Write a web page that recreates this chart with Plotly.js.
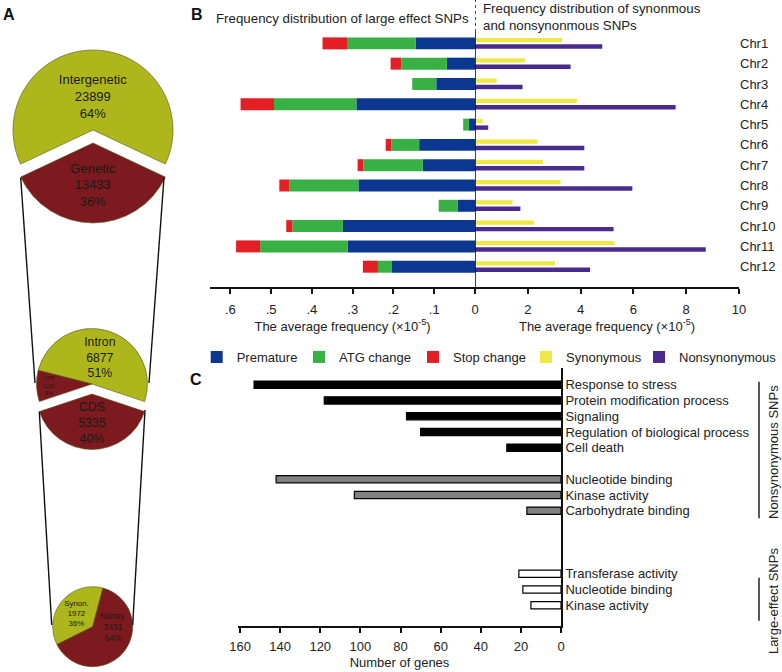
<!DOCTYPE html>
<html>
<head>
<meta charset="utf-8">
<script src="https://cdn.plot.ly/plotly-3.0.1.min.js"></script>
<style>
  html, body { margin: 0; padding: 0; background: #ffffff; }
  #chart { width: 782px; height: 672px; }
</style>
</head>
<body>
<div id="chart"></div>
<script>
/* SNP annotation figure - panels A (pies), B (per-chromosome frequency), C (GO terms) */

// Panel A: SNP counts by genomic region
const regionLabels = ['Intergenetic', 'Genetic'];
const regionCounts = [23899, 13433];
const geneLabels = ['Intron', 'UTR', 'CDS'];
const geneCounts = [6877, 1221, 5335];
const cdsLabels = ['Synon.', 'Nonsy.'];
const cdsCounts = [1972, 3431];

// Panel B: average frequency (x10^-5) per chromosome
const chromosomes = ['Chr1', 'Chr2', 'Chr3', 'Chr4', 'Chr5', 'Chr6',
                     'Chr7', 'Chr8', 'Chr9', 'Chr10', 'Chr11', 'Chr12'];
const premature  = [0.145, 0.069, 0.095, 0.291, 0.015, 0.137, 0.128, 0.286, 0.042, 0.324, 0.312, 0.205];
const atgChange  = [0.169, 0.112, 0.059, 0.202, 0.014, 0.068, 0.146, 0.169, 0.047, 0.124, 0.215, 0.033];
const stopChange = [0.060, 0.026, 0.000, 0.082, 0.000, 0.014, 0.014, 0.025, 0.000, 0.015, 0.059, 0.037];
const synonymous    = [3.30, 1.89, 0.82, 3.86, 0.29, 2.37, 2.57, 3.24, 1.42, 2.24, 5.28, 3.03];
const nonsynonymous = [4.82, 3.62, 1.80, 7.60, 0.50, 4.14, 4.14, 5.96, 1.72, 5.25, 8.74, 4.36];

// Panel C: number of genes per GO term
const bioTerms = ['Response to stress', 'Protein modification process', 'Signaling',
                  'Regulation of biological process', 'Cell death'];
const bioGenes = [153, 118, 77, 70, 27];
const molTerms = ['Nucleotide binding', 'Kinase activity', 'Carbohydrate binding'];
const molGenes = [142, 103, 17];
const largeTerms = ['Transferase activity', 'Nucleotide binding', 'Kinase activity'];
const largeGenes = [21, 19, 15];

// ---- helpers: pixel -> paper coordinates
const W = 782, H = 672;
const px = x => x / W;
const py = y => 1 - y / H;

const OLIVE = '#adb71c';
const MAROON = '#7c1a1f';
const FONT = 'Arial, "Liberation Sans", sans-serif';
const TEXT = '#222222';

const sum = arr => arr.reduce((a, b) => a + b, 0);

// plotly counterclockwise pies: slice 0 sits clockwise of the rotation line,
// the others follow counterclockwise. Centre slice k (k >= 1) at 6 o'clock.
function bottomRotation(values, k) {
  const total = sum(values);
  const deg = v => 360 * v / total;
  let rot = 180 + deg(sum(values.slice(1, k))) + deg(values[k]) / 2;
  while (rot > 360) rot -= 360;
  return rot;
}

function pieTrace(labels, values, colors, opts) {
  return {
    type: 'pie',
    labels: labels,
    values: values,
    sort: false,
    direction: 'counterclockwise',
    rotation: opts.rotation,
    pull: labels.map((_, i) => (i === opts.pulled ? opts.pull : 0)),
    domain: { x: [px(opts.x0), px(opts.x1)], y: [py(opts.y1), py(opts.y0)] },
    marker: { colors: colors, line: { color: '#55551a', width: 0.6 } },
    texttemplate: '%{label}<br>%{value:d}<br>%{percent:.0%}',
    textposition: 'inside',
    insidetextorientation: 'horizontal',
    insidetextfont: { family: FONT, size: opts.fontSize, color: '#1a1a1a' },
    hoverinfo: 'label+value+percent',
    showlegend: false
  };
}

const traces = [];

// Panel A pies
traces.push(pieTrace(regionLabels, regionCounts, [OLIVE, MAROON],
  { rotation: bottomRotation(regionCounts, 1), pulled: 1, pull: 0.1625,
    x0: 0, x1: 186, y0: 37, y1: 223, fontSize: 13 }));
traces.push(pieTrace(geneLabels, geneCounts, [OLIVE, MAROON, MAROON],
  { rotation: bottomRotation(geneCounts, 2), pulled: 2, pull: 0.18,
    x0: 26.5, x1: 157.5, y0: 318.5, y1: 449.5, fontSize: 13 }));
traces.push(pieTrace(cdsLabels, cdsCounts, [OLIVE, MAROON],
  { rotation: 243.5, pulled: -1, pull: 0,
    x0: 52.7, x1: 132.7, y0: 586.7, y1: 666.7, fontSize: 10 }));

// Panel B: one legend box per series, placed along the legend row
const legendIds = ['legend', 'legend2', 'legend3', 'legend4', 'legend5'];
const legendBoxLeft = [211.7, 314, 428, 541, 654];

// Panel B left: large effect SNPs, stacked leftwards from zero
const leftSeries = [
  { name: 'Premature', vals: premature, color: '#0b3790' },
  { name: 'ATG change', vals: atgChange, color: '#38b044' },
  { name: 'Stop change', vals: stopChange, color: '#e31e24' }
];
let running = chromosomes.map(() => 0);
leftSeries.forEach((s, i) => {
  traces.push({
    type: 'bar',
    orientation: 'h',
    name: s.name,
    legend: legendIds[i],
    y: chromosomes,
    x: s.vals,
    base: running.slice(),
    width: 0.59,
    xaxis: 'x',
    yaxis: 'y',
    marker: { color: s.color, line: { width: 0 } },
    hovertemplate: '%{y}: %{x:.3f}<extra>' + s.name + '</extra>'
  });
  running = running.map((v, j) => v + s.vals[j]);
});

// Panel B right: synonymous / nonsynonymous
traces.push({
  type: 'bar', orientation: 'h', name: 'Synonymous', legend: legendIds[3],
  y: chromosomes, x: synonymous,
  offset: -0.27, width: 0.21,
  xaxis: 'x2', yaxis: 'y',
  marker: { color: '#eee744', line: { width: 0 } }
});
traces.push({
  type: 'bar', orientation: 'h', name: 'Nonsynonymous', legend: legendIds[4],
  y: chromosomes, x: nonsynonymous,
  offset: 0.04, width: 0.22,
  xaxis: 'x2', yaxis: 'y',
  marker: { color: '#4a2a8c', line: { width: 0 } }
});

// Panel C: GO terms, with spacer slots between groups
const bioKeys = bioTerms.map(t => 'bio|' + t);
const molKeys = molTerms.map(t => 'mol|' + t);
const largeKeys = largeTerms.map(t => 'large|' + t);
const goSlots = [...bioKeys, 'gap1', ...molKeys, 'gap2', 'gap3', 'gap4', ...largeKeys];

const goGroups = [
  { keys: bioKeys, vals: bioGenes, fill: '#000000' },
  { keys: molKeys, vals: molGenes, fill: '#808080' },
  { keys: largeKeys, vals: largeGenes, fill: '#ffffff' }
];
goGroups.forEach(g => {
  traces.push({
    type: 'bar', orientation: 'h',
    y: g.keys, x: g.vals,
    width: 0.46,
    xaxis: 'x3', yaxis: 'y3',
    marker: { color: g.fill, line: { color: '#000000', width: 1.2 } },
    showlegend: false,
    hovertemplate: '%{x}<extra></extra>'
  });
});

const axisBase = {
  showgrid: false,
  zeroline: false,
  showline: true,
  linecolor: '#111111',
  linewidth: 1.6,
  ticks: 'outside',
  ticklen: 5,
  tickwidth: 1.5,
  tickcolor: '#111111',
  tickfont: { family: FONT, size: 13, color: TEXT },
  automargin: false,
  fixedrange: true
};
const axisTitleFont = { family: FONT, size: 13, color: TEXT };

// paper-anchored text helper (explicit anchors, plotly's 'auto' shifts them)
function label(text, x, y, extra) {
  return Object.assign({
    text: text, x: px(x), y: py(y), xref: 'paper', yref: 'paper',
    xanchor: 'center', yanchor: 'middle', showarrow: false,
    font: { family: FONT, size: 13, color: TEXT }
  }, extra || {});
}

const layout = {
  width: W,
  height: H,
  margin: { l: 0, r: 0, t: 0, b: 0, autoexpand: false },
  paper_bgcolor: '#ffffff',
  plot_bgcolor: 'rgba(0,0,0,0)',
  font: { family: FONT, size: 13, color: TEXT },
  barmode: 'overlay',
  showlegend: true,
  xaxis: Object.assign({}, axisBase, {
    domain: [px(210), px(475)],
    range: [0.65, 0],
    anchor: 'y',
    tickmode: 'array',
    tickvals: [0.6, 0.5, 0.4, 0.3, 0.2, 0.1, 0],
    ticktext: ['.6', '.5', '.4', '.3', '.2', '.1', '0'],
    ticklabelstandoff: 5,
    title: { text: 'The average frequency (×10<sup>-5</sup>)', font: axisTitleFont, standoff: 1 }
  }),
  xaxis2: Object.assign({}, axisBase, {
    domain: [px(475), px(739)],
    range: [0, 10],
    anchor: 'y',
    tickmode: 'array',
    tickvals: [0, 2, 4, 6, 8, 10],
    ticktext: [' ', '2', '4', '6', '8', '10'],
    ticklabelstandoff: 5,
    title: { text: 'The average frequency (×10<sup>-5</sup>)', font: axisTitleFont, standoff: 1 }
  }),
  yaxis: {
    domain: [py(287), py(32)],
    anchor: 'x2',
    side: 'right',
    type: 'category',
    categoryorder: 'array',
    categoryarray: chromosomes,
    range: [12.0, -0.56],
    showline: false,
    showgrid: false,
    zeroline: false,
    ticks: '',
    automargin: false,
    tickfont: { family: FONT, size: 13, color: TEXT },
    fixedrange: true
  },
  xaxis3: Object.assign({}, axisBase, {
    domain: [px(238), px(561)],
    range: [161, 0],
    anchor: 'y3',
    tickmode: 'array',
    tickvals: [160, 140, 120, 100, 80, 60, 40, 20, 0],
    ticklabelstandoff: 3,
    title: { text: 'Number of genes', font: axisTitleFont, standoff: 5 }
  }),
  yaxis3: {
    domain: [py(625.7), py(368.3)],
    anchor: 'x3',
    side: 'right',
    type: 'category',
    categoryorder: 'array',
    categoryarray: goSlots,
    range: [15.3, -1.04],
    tickmode: 'array',
    tickvals: [...bioKeys, ...molKeys, ...largeKeys],
    ticktext: [...bioTerms, ...molTerms, ...largeTerms],
    showline: true,
    linecolor: '#111111',
    linewidth: 1.6,
    showgrid: false,
    zeroline: false,
    ticks: '',
    automargin: false,
    tickfont: { family: FONT, size: 13, color: TEXT },
    fixedrange: true
  },
  shapes: [
    // zero line between the two halves of panel B, dotted above the plot
    { type: 'line', xref: 'x2', x0: 0, x1: 0, yref: 'paper', y0: py(287), y1: py(32),
      line: { color: '#111111', width: 1.6 } },
    { type: 'line', xref: 'x2', x0: 0, x1: 0, yref: 'paper', y0: py(32), y1: py(0),
      line: { color: '#111111', width: 1.5, dash: 'dot' } },
    // group brackets of panel C
    { type: 'line', xref: 'paper', yref: 'paper', x0: px(759), x1: px(759), y0: py(381.7), y1: py(518.3),
      line: { color: '#111111', width: 1.4 } },
    { type: 'line', xref: 'paper', yref: 'paper', x0: px(759), x1: px(759), y0: py(577.7), y1: py(620.7),
      line: { color: '#111111', width: 1.4 } },
    // connectors between the pies
    { type: 'line', xref: 'paper', yref: 'paper', x0: px(20.7), y0: py(177.7), x1: px(35), y1: py(383),
      line: { color: '#111111', width: 1.4 } },
    { type: 'line', xref: 'paper', yref: 'paper', x0: px(164), y0: py(177.7), x1: px(149), y1: py(383),
      line: { color: '#111111', width: 1.4 } },
    { type: 'line', xref: 'paper', yref: 'paper', x0: px(39.3), y0: py(411.7), x1: px(51.7), y1: py(625),
      line: { color: '#111111', width: 1.4 } },
    { type: 'line', xref: 'paper', yref: 'paper', x0: px(145), y0: py(410), x1: px(132.7), y1: py(625),
      line: { color: '#111111', width: 1.4 } }
  ],
  annotations: [
    label('<b>A</b>', 8.5, 14, { font: { family: FONT, size: 16, color: '#111111' } }),
    label('<b>B</b>', 197, 14, { font: { family: FONT, size: 16, color: '#111111' } }),
    label('<b>C</b>', 196, 379, { font: { family: FONT, size: 16, color: '#111111' } }),
    label('Frequency distribution of large effect SNPs', 342, 18.3,
      { font: { family: FONT, size: 13.3, color: TEXT } }),
    label('Frequency distribution of synonmous<br>and nonsynonmous SNPs', 481, 17.4,
      { xanchor: 'left', align: 'left', font: { family: FONT, size: 13.3, color: TEXT } }),
    label('Nonsynonymous SNPs', 773.3, 451.7, { textangle: -90 }),
    label('Large-effect SNPs', 773.3, 600.8, { textangle: -90 })
  ]
};

// one single-entry legend per series, at the reference positions
legendIds.forEach((id, i) => {
  layout[id] = {
    orientation: 'h',
    x: px(legendBoxLeft[i] - 15), xanchor: 'left',
    y: py(342), yanchor: 'top',
    font: { family: FONT, size: 13, color: TEXT },
    itemwidth: 30,
    bgcolor: 'rgba(0,0,0,0)'
  };
});

Plotly.newPlot('chart', traces, layout, { displayModeBar: false, responsive: false });
</script>
</body>
</html>
